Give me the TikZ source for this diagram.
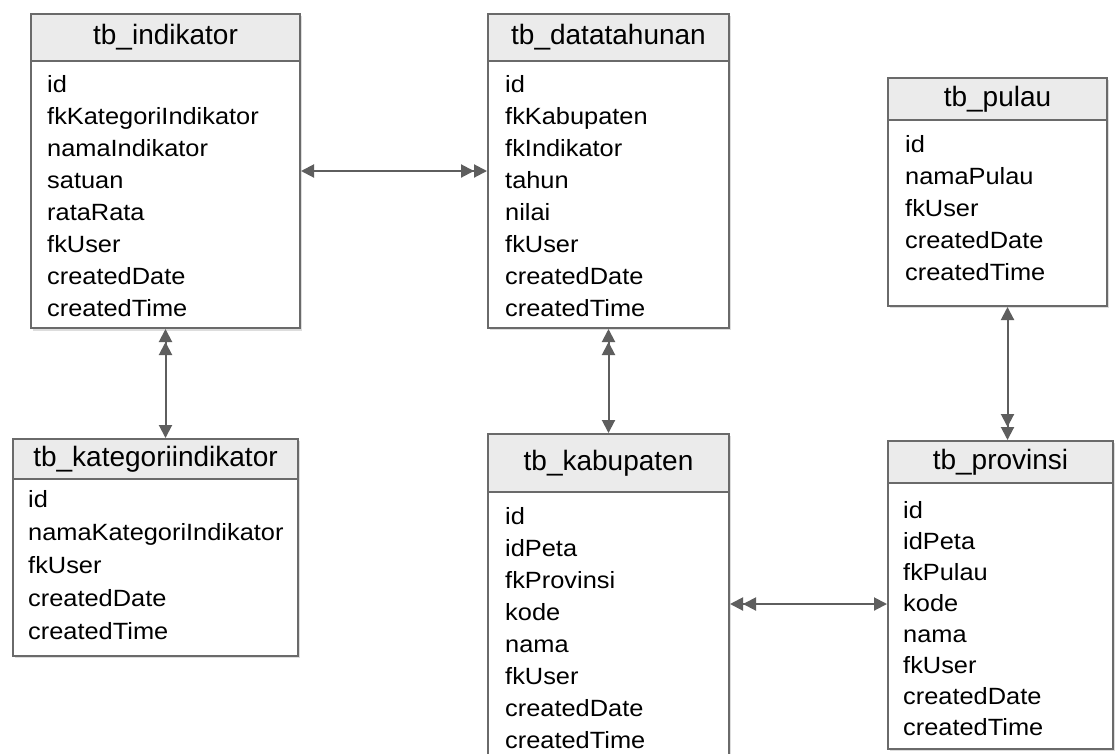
\documentclass[tikz,border=0pt]{standalone}
\usepackage{fontspec}
\setmainfont{Liberation Sans}[FakeStretch=1.08]
\newfontfamily\titlefont{Liberation Sans}
\usetikzlibrary{arrows.meta,calc}
\definecolor{bordergray}{HTML}{6A6A6A}
\definecolor{headfill}{HTML}{EBEBEB}
\definecolor{linkgray}{HTML}{5E5E5E}
\definecolor{shadowgray}{HTML}{DDDDDD}
\tikzset{
  tbox/.style={draw=bordergray, line width=2pt, fill=white, anchor=north west, inner sep=0pt},
  tshadow/.style={fill=shadowgray, draw=none, anchor=north west, inner sep=0pt},
  thead/.style={draw=bordergray, line width=2pt, fill=headfill, anchor=north west, inner sep=0pt,
    font=\titlefont\fontsize{28}{32}\selectfont},
  field/.style={anchor=base west, inner sep=0pt, font=\fontsize{23.5}{27}\selectfont},
  link/.style={draw=linkgray, fill=linkgray, line width=2pt},
  onemany/.style={arrows={Triangle[length=13pt,width=13pt]-Triangle[length=13pt,width=13pt]Triangle[length=13pt,width=13pt]}},
  manyone/.style={arrows={Triangle[length=13pt,width=13pt]Triangle[length=13pt,width=13pt]-Triangle[length=13pt,width=13pt]}},
}
\begin{document}
\begin{tikzpicture}[x=1pt,y=-1pt]
\clip (0,0) rectangle (1118,753);
\fill[white] (0,0) rectangle (1118,753);

% shadows
\node[tshadow, minimum width=269pt, minimum height=315pt] (inds) at (33,16) {};
\node[tshadow, minimum width=241pt, minimum height=314pt] (dts) at (490,16) {};
\node[tshadow, minimum width=219pt, minimum height=228pt] (puls) at (890,80) {};
\node[tshadow, minimum width=285pt, minimum height=217pt] (kats) at (15,441) {};
\node[tshadow, minimum width=241pt, minimum height=340pt] (kabs) at (490,436) {};
\node[tshadow, minimum width=225pt, minimum height=308pt] (provs) at (890,443) {};

% boxes
\node[tbox, minimum width=269pt, minimum height=314pt] (ind) at (30,13) {};
\node[tbox, minimum width=241pt, minimum height=314pt] (dt) at (487,13) {};
\node[tbox, minimum width=219pt, minimum height=228pt] (pul) at (887,77) {};
\node[tbox, minimum width=285pt, minimum height=217pt] (kat) at (12,438) {};
\node[tbox, minimum width=241pt, minimum height=340pt] (kab) at (487,433) {};
\node[tbox, minimum width=225pt, minimum height=308pt] (prov) at (887,440) {};

% headers
\node[thead, minimum width=269pt, minimum height=47pt] (indh) at (30,13) {tb\_indikator};
\node[thead, minimum width=241pt, minimum height=47pt] (dth) at (487,13) {tb\_datatahunan};
\node[thead, minimum width=219pt, minimum height=42pt] (pulh) at (887,77) {tb\_pulau};
\node[thead, minimum width=285pt, minimum height=40pt] (kath) at (12,438) {tb\_kategoriindikator};
\node[thead, minimum width=241pt, minimum height=58pt] (kabh) at (487,433) {tb\_kabupaten};
\node[thead, minimum width=225pt, minimum height=42pt] (provh) at (887,440) {tb\_provinsi};

% fields
\foreach \t [count=\i from 0] in {id,fkKategoriIndikator,namaIndikator,satuan,rataRata,fkUser,createdDate,createdTime}
  \node[field] (ind-\i) at (47,92+32*\i) {\t};
\foreach \t [count=\i from 0] in {id,fkKabupaten,fkIndikator,tahun,nilai,fkUser,createdDate,createdTime}
  \node[field] (dt-\i) at (505,92+32*\i) {\t};
\foreach \t [count=\i from 0] in {id,namaPulau,fkUser,createdDate,createdTime}
  \node[field] (pul-\i) at (905,152+32*\i) {\t};
\foreach \t [count=\i from 0] in {id,namaKategoriIndikator,fkUser,createdDate,createdTime}
  \node[field] (kat-\i) at (28,507+33*\i) {\t};
\foreach \t [count=\i from 0] in {id,idPeta,fkProvinsi,kode,nama,fkUser,createdDate,createdTime}
  \node[field] (kab-\i) at (505,524+32*\i) {\t};
\foreach \t [count=\i from 0] in {id,idPeta,fkPulau,kode,nama,fkUser,createdDate,createdTime}
  \node[field] (prov-\i) at (903,518+31*\i) {\t};

% connectors
\draw[link, onemany] (ind.east) -- (ind.east -| dt.west);
\draw[link, manyone] (ind.south) -- (ind.south |- kat.north);
\draw[link, manyone] (dt.south) -- (dt.south |- kab.north);
\draw[link, onemany] ([xshift=10pt]pul.south) -- ([xshift=10pt]pul.south |- prov.north);
\draw[link, manyone] (kab.east) -- (kab.east -| prov.west);
\end{tikzpicture}
\end{document}
